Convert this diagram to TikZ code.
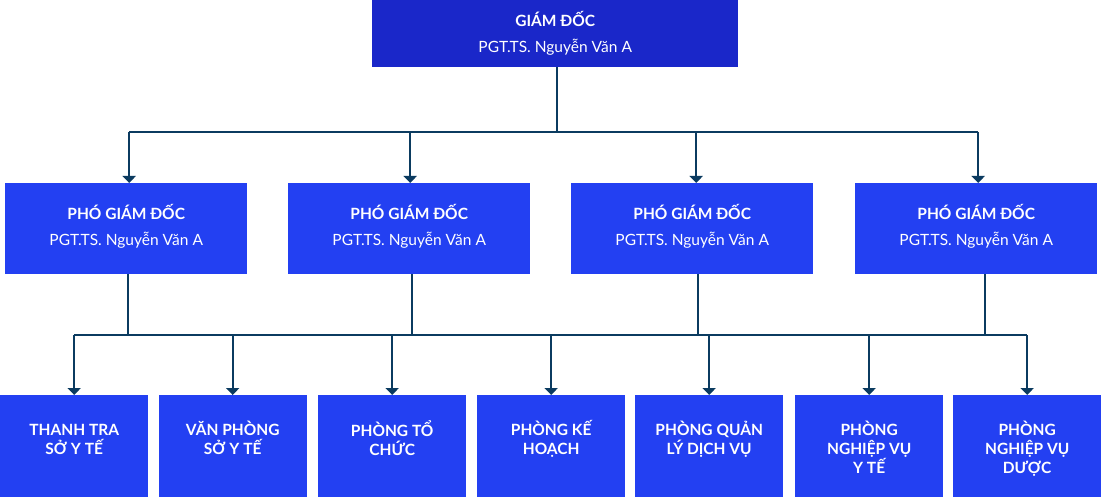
\documentclass[tikz,border=0pt]{standalone}
\usepackage{fontspec}
\setmainfont{Lato}
\usetikzlibrary{arrows.meta}
\definecolor{topblue}{HTML}{1A27C9}
\definecolor{boxblue}{HTML}{2340F2}
\definecolor{linecol}{HTML}{0B3B60}
\newcommand{\fs}{\rule{0pt}{15pt}}
\tikzset{
  topbox/.style={fill=topblue, draw=none, minimum width=366pt, minimum height=67pt, inner sep=0pt, anchor=north west},
  midbox/.style={fill=boxblue, draw=none, minimum width=242pt, minimum height=91pt, inner sep=0pt, anchor=north west},
  lowbox/.style={fill=boxblue, draw=none, minimum width=148pt, minimum height=102pt, inner sep=0pt, anchor=north west},
  boxtext/.style={text=white, align=center, font=\fontsize{15.5}{25.5}\selectfont},
  lowtext/.style={text=white, align=center, anchor=north, inner sep=0pt, font=\fontsize{15.5}{19}\selectfont\bfseries},
  conn/.style={draw=linecol, line width=2.3pt},
  arr/.style={conn, -{Triangle[width=13pt,length=7pt]}},
}
\begin{document}
\begin{tikzpicture}[x=1pt,y=-1pt]
\useasboundingbox (0,0) rectangle (1101,497);
% top
\node[topbox] (g) at (372,0) {};
\node[boxtext] (gt) at ([yshift=0.5pt]g.center) {\textbf{GIÁM ĐỐC}\\PGT.TS. Nguyễn Văn A};
% middle
\foreach \i/\x in {1/5,2/288,3/571,4/855}{
  \node[midbox] (m\i) at (\x,183) {};
  \node[boxtext] (mt\i) at ([yshift=2.5pt]m\i.center) {\textbf{PHÓ GIÁM ĐỐC}\\PGT.TS. Nguyễn Văn A};
}
% bottom
\node[lowbox] (b1) at (0,395) {};
\node[lowbox] (b2) at (158.5,395) {};
\node[lowbox] (b3) at (318,395) {};
\node[lowbox] (b4) at (477,395) {};
\node[lowbox] (b5) at (635,395) {};
\node[lowbox] (b6) at (795,395) {};
\node[lowbox] (b7) at (953,395) {};
\node[lowtext] (t1) at ([yshift=-25pt]b1.north) {\fs THANH TRA\\SỞ Y TẾ};
\node[lowtext] (t2) at ([yshift=-25pt]b2.north) {\fs VĂN PHÒNG\\SỞ Y TẾ};
\node[lowtext] (t3) at ([yshift=-25pt]b3.north) {\fs PHÒNG TỔ\\CHỨC};
\node[lowtext] (t4) at ([yshift=-25pt]b4.north) {\fs PHÒNG KẾ\\HOẠCH};
\node[lowtext] (t5) at ([yshift=-25pt]b5.north) {\fs PHÒNG QUẢN\\LÝ DỊCH VỤ};
\node[lowtext] (t6) at ([yshift=-25pt]b6.north) {\fs PHÒNG\\NGHIỆP VỤ\\Y TẾ};
\node[lowtext] (t7) at ([yshift=-25pt]b7.north) {\fs PHÒNG\\NGHIỆP VỤ\\DƯỢC};
% connectors top -> middle
\coordinate (j1) at (557,132);
\draw[conn] ([xshift=2pt]g.south) -- ([xshift=2pt]g.south |- j1);
\draw[conn] ([xshift=3pt]m1.north |- j1) -- ([xshift=2pt]m4.north |- j1);
\foreach \i/\s in {1/3,2/1,3/4,4/2}{
  \draw[arr] ([xshift=\s pt]m\i.north |- j1) -- ([xshift=\s pt]m\i.north);
}
% connectors middle -> bottom
\coordinate (j2) at (557,335);
\foreach \i/\s in {1/2,2/3,3/6,4/9}{
  \draw[conn] ([xshift=\s pt]m\i.south) -- ([xshift=\s pt]m\i.south |- j2);
}
\draw[conn] (b1.north |- j2) -- (b7.north |- j2);
\foreach \i in {1,...,7}{
  \draw[arr] (b\i.north |- j2) -- (b\i.north);
}
\end{tikzpicture}
\end{document}
